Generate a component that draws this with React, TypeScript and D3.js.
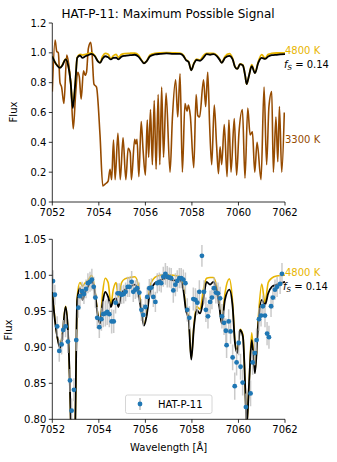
import React from "react";
import * as d3 from "d3";

// model grid shared by the 4800 K and f_S = 0.14 spectra
const modelWave = [
  7052.0, 7052.11, 7052.21, 7052.33, 7052.43, 7052.57, 7052.67, 7052.79, 7052.88, 7052.99,
  7053.07, 7053.19, 7053.3, 7053.42, 7053.53, 7053.69, 7053.83, 7053.96, 7054.05, 7054.16,
  7054.27, 7054.4, 7054.52, 7054.62, 7054.74, 7054.84, 7054.98, 7055.12, 7055.34, 7055.55,
  7055.7, 7055.84, 7055.94, 7056.05, 7056.2, 7056.41, 7056.63, 7056.91, 7057.2, 7057.49,
  7057.63, 7057.74, 7057.86, 7057.97, 7058.09, 7058.2, 7058.35, 7058.49, 7058.63, 7058.78,
  7058.92, 7059.06, 7059.18, 7059.28, 7059.42, 7059.61, 7059.75, 7059.85, 7059.95, 7060.07,
  7060.19, 7060.29, 7060.35, 7060.45, 7060.57, 7060.71, 7060.85, 7061.0, 7061.14, 7061.28,
  7061.43, 7061.64, 7062.0,
];
const hotFlux = [
  0.977, 0.94, 0.915, 0.902, 0.918, 0.957, 0.925, 0.8, 0.64, 0.8,
  0.97, 0.99, 0.985, 0.99, 0.993, 1.0, 0.98, 0.945, 0.935, 0.975,
  0.996, 0.99, 0.96, 0.98, 0.99, 0.97, 0.99, 0.995, 0.997, 0.998,
  0.985, 0.95, 0.932, 0.945, 0.985, 0.997, 1.0, 1.001, 1.0, 0.998,
  0.985, 0.955, 0.94, 0.885, 0.932, 0.957, 0.953, 0.98, 0.996, 0.997,
  0.997, 0.985, 0.96, 0.935, 0.975, 0.995, 0.962, 0.908, 0.893, 0.925,
  0.918, 0.845, 0.79, 0.845, 0.92, 0.866, 0.94, 0.988, 0.962, 0.99,
  0.996, 0.999, 1.0,
];
const mixFlux = [
  0.977, 0.938, 0.915, 0.899, 0.915, 0.956, 0.924, 0.8, 0.63, 0.8,
  0.966, 0.982, 0.966, 0.977, 0.984, 0.993, 0.977, 0.943, 0.933, 0.961,
  0.977, 0.97, 0.956, 0.966, 0.968, 0.956, 0.975, 0.98, 0.984, 0.987,
  0.975, 0.947, 0.93, 0.943, 0.977, 0.989, 0.993, 0.996, 0.993, 0.993,
  0.98, 0.952, 0.938, 0.883, 0.929, 0.952, 0.947, 0.966, 0.991, 0.987,
  0.991, 0.98, 0.956, 0.933, 0.966, 0.98, 0.956, 0.906, 0.892, 0.924,
  0.915, 0.845, 0.79, 0.845, 0.91, 0.864, 0.933, 0.966, 0.959, 0.975,
  0.984, 0.987, 0.991,
];

// 3300 K spectrum (peaks and troughs)
const coolWave = [
  7052.0, 7052.12, 7052.19, 7052.26, 7052.33, 7052.4, 7052.5, 7052.62, 7052.7, 7052.8,
  7052.9, 7053.0, 7053.09, 7053.16, 7053.24, 7053.34, 7053.41, 7053.47, 7053.55, 7053.65,
  7053.71, 7053.79, 7053.9, 7054.05, 7054.17, 7054.27, 7054.4, 7054.48, 7054.55, 7054.63,
  7054.7, 7054.82, 7054.92, 7055.04, 7055.16, 7055.26, 7055.35, 7055.4, 7055.54, 7055.59,
  7055.64, 7055.72, 7055.82, 7055.9, 7056.0, 7056.08, 7056.14, 7056.22, 7056.3, 7056.38,
  7056.46, 7056.55, 7056.62, 7056.7, 7056.78, 7056.89, 7057.06, 7057.16, 7057.3, 7057.39,
  7057.49, 7057.59, 7057.7, 7057.79, 7057.85, 7057.93, 7058.08, 7058.18, 7058.25, 7058.33,
  7058.5, 7058.59, 7058.68, 7058.76, 7058.85, 7058.96, 7059.06, 7059.14, 7059.21, 7059.28,
  7059.39, 7059.51, 7059.59, 7059.68, 7059.82, 7059.92, 7060.02, 7060.17, 7060.28, 7060.4,
  7060.5, 7060.6, 7060.7, 7060.8, 7060.97, 7061.1, 7061.21, 7061.31, 7061.43, 7061.5,
  7061.61, 7061.69, 7061.76, 7061.86, 7061.97,
];
const coolFlux = [
  0.74, 1.085, 1.01, 1.0, 0.8, 0.77, 0.66, 0.985, 0.93, 0.78,
  0.49, 0.72, 0.87, 0.84, 0.69, 0.88, 0.85, 0.87, 1.03, 1.07,
  0.99, 0.79, 0.77, 0.45, 0.107, 0.12, 0.14, 0.22, 0.15, 0.415,
  0.15, 0.46, 0.15, 0.43, 0.15, 0.36, 0.33, 0.15, 0.42, 0.39,
  0.42, 0.17, 0.54, 0.35, 0.18, 0.55, 0.3, 0.62, 0.25, 0.68,
  0.22, 0.72, 0.25, 0.77, 0.3, 0.73, 0.2, 0.56, 0.82, 0.57,
  0.86, 0.2, 0.66, 0.61, 0.65, 0.58, 0.23, 0.72, 0.58, 0.57,
  0.82, 0.64, 0.87, 0.52, 0.25, 0.65, 0.38, 0.19, 0.37, 0.25,
  0.52, 0.17, 0.55, 0.2, 0.56, 0.18, 0.46, 0.62, 0.16, 0.63,
  0.45, 0.47, 0.2, 0.4, 0.15, 0.77, 0.25, 0.64, 0.74, 0.2,
  0.57, 0.27, 0.64, 0.2, 0.6,
];

// HAT-P-11 observed points
const obsWave = [
  7052.03, 7052.11, 7052.21, 7052.3, 7052.4, 7052.47, 7052.57, 7052.67, 7052.76, 7052.83,
  7052.93, 7053.03, 7053.12, 7053.19, 7053.28, 7053.36, 7053.45, 7053.53, 7053.62, 7053.7,
  7053.78, 7053.85, 7053.93, 7054.02, 7054.11, 7054.19, 7054.28, 7054.36, 7054.45, 7054.55,
  7054.64, 7054.72, 7054.81, 7054.89, 7054.98, 7055.07, 7055.15, 7055.24, 7055.32, 7055.41,
  7055.48, 7055.57, 7055.65, 7055.74, 7055.83, 7055.91, 7056.0, 7056.08, 7056.17, 7056.26,
  7056.34, 7056.43, 7056.51, 7056.6, 7056.68, 7056.77, 7056.86, 7056.94, 7057.03, 7057.11,
  7057.2, 7057.29, 7057.37, 7057.46, 7057.54, 7057.63, 7057.72, 7057.8, 7057.89, 7058.06,
  7058.15, 7058.23, 7058.32, 7058.43, 7058.52, 7058.6, 7058.69, 7058.78, 7058.86, 7058.95,
  7059.03, 7059.12, 7059.21, 7059.29, 7059.38, 7059.46, 7059.49, 7059.58, 7059.66, 7059.75,
  7059.84, 7059.92, 7060.01, 7060.09, 7060.18, 7060.32, 7060.52, 7060.61, 7060.7, 7060.78,
  7060.88, 7060.97, 7061.05, 7061.14, 7061.23, 7061.31, 7061.4, 7061.48, 7061.57, 7061.66,
  7061.79, 7061.87,
];
const obsFlux = [
  0.992, 0.973, 0.929, 0.895, 0.904, 0.924, 0.929, 0.908, 0.854, 0.812,
  0.841, 0.91, 0.955, 0.971, 0.978, 0.974, 0.981, 0.989, 0.991, 0.994,
  0.984, 0.969, 0.941, 0.928, 0.939, 0.946, 0.947, 0.949, 0.946, 0.936,
  0.936, 0.962, 0.975, 0.975, 0.973, 0.974, 0.977, 0.984, 0.984, 0.991,
  0.977, 0.98, 0.982, 0.976, 0.952, 0.945, 0.956, 0.97, 0.982, 0.983,
  0.97, 0.963, 0.989, 0.991, 0.989, 0.998, 1.002, 0.998, 0.997, 0.996,
  0.979, 0.987, 0.992, 0.996, 0.996, 0.994, 0.989, 0.952, 0.941, 0.967,
  0.966, 0.962, 0.977, 1.027, 0.977, 0.952, 0.943, 0.963, 0.969, 0.982,
  0.976, 0.975, 0.968, 0.943, 0.934, 0.923, 0.903, 0.936, 0.922, 0.886,
  0.846, 0.879, 0.906, 0.873, 0.851, 0.817, 0.836, 0.879, 0.892, 0.91,
  0.939, 0.944, 0.957, 0.944, 0.919, 0.914, 0.957, 0.969, 0.98, 0.984,
  0.988, 1.002,
];
const obsErr = [
  0.015, 0.014, 0.014, 0.015, 0.014, 0.014, 0.015, 0.016, 0.016, 0.017,
  0.016, 0.015, 0.014, 0.014, 0.013, 0.014, 0.013, 0.014, 0.014, 0.015,
  0.014, 0.014, 0.015, 0.015, 0.016, 0.018, 0.018, 0.018, 0.018, 0.017,
  0.016, 0.015, 0.014, 0.014, 0.013, 0.013, 0.013, 0.014, 0.014, 0.015,
  0.014, 0.013, 0.013, 0.014, 0.015, 0.015, 0.014, 0.014, 0.013, 0.013,
  0.014, 0.014, 0.014, 0.013, 0.013, 0.014, 0.015, 0.015, 0.014, 0.014,
  0.017, 0.016, 0.015, 0.014, 0.014, 0.014, 0.015, 0.016, 0.016, 0.016,
  0.016, 0.017, 0.016, 0.015, 0.016, 0.017, 0.017, 0.016, 0.016, 0.015,
  0.015, 0.015, 0.016, 0.017, 0.017, 0.017, 0.018, 0.017, 0.017, 0.018,
  0.019, 0.018, 0.017, 0.018, 0.018, 0.019, 0.018, 0.017, 0.017, 0.016,
  0.016, 0.015, 0.015, 0.016, 0.016, 0.016, 0.015, 0.015, 0.014, 0.014,
  0.014, 0.015,
];

const topTicks = [0, 0.2, 0.4, 0.6, 0.8, 1.0, 1.2];
const bottomTicks = [0.8, 0.85, 0.9, 0.95, 1.0, 1.05];
const waveTicks = [7052, 7054, 7056, 7058, 7060, 7062];

const HOT = "#e8b500";
const COOL = "#964b00";
const BLUE = "#1f77b4";
const FONT = "DejaVu Sans";

const W = 337;
const H = 462;
const left = 52.3;
const right = 285;

type Pt = [number, number];
const zip = (xs: number[], ys: number[]): Pt[] => xs.map((x, i) => [x, ys[i]]);

function FS({ x, y }: { x: number; y: number }) {
  return (
    <text x={x} y={y} fontSize={10} fontFamily={FONT} fill="#000">
      <tspan fontStyle="italic">f</tspan>
      <tspan fontStyle="italic" fontSize={7} dy={2}>S</tspan>
      <tspan dy={-2}> = 0.14</tspan>
    </text>
  );
}

function Axes({ y, ticks, fmt, top, bottom }: any) {
  const x = d3.scaleLinear().domain([7052, 7062]).range([left, right]);
  return (
    <g fontFamily={FONT} fontSize={10}>
      <line x1={left} x2={left} y1={top} y2={bottom} stroke="#000" strokeWidth={0.8} />
      <line x1={left} x2={right} y1={bottom} y2={bottom} stroke="#000" strokeWidth={0.8} />
      {ticks.map((t: number) => (
        <g key={t}>
          <line x1={left - 3.5} x2={left} y1={y(t)} y2={y(t)} stroke="#000" strokeWidth={0.8} />
          <text x={left - 6} y={y(t)} dy="0.35em" textAnchor="end">{fmt(t)}</text>
        </g>
      ))}
      {waveTicks.map((t) => (
        <g key={t}>
          <line x1={x(t)} x2={x(t)} y1={bottom} y2={bottom + 3.5} stroke="#000" strokeWidth={0.8} />
          <text x={x(t)} y={bottom + 14} textAnchor="middle">{t}</text>
        </g>
      ))}
    </g>
  );
}

export default function App() {
  const x = d3.scaleLinear().domain([7052, 7062]).range([left, right]);
  const yTop = d3.scaleLinear().domain([0, 1.2]).range([202, 23]);
  const yBot = d3.scaleLinear().domain([0.8, 1.05]).range([419.3, 239.3]);

  const lineTop = d3.line<Pt>().x((d) => x(d[0])).y((d) => yTop(d[1])).curve(d3.curveMonotoneX);
  const lineBot = d3.line<Pt>().x((d) => x(d[0])).y((d) => yBot(d[1])).curve(d3.curveMonotoneX);

  const hot = zip(modelWave, hotFlux);
  const mix = zip(modelWave, mixFlux);
  const cool = zip(coolWave, coolFlux);

  return (
    <svg width={W} height={H} style={{ position: "absolute", left: 0, top: 0, background: "#fff" }}>
      <defs>
        <clipPath id="clipTop">
          <rect x={left} y={23} width={right - left} height={202 - 23} />
        </clipPath>
        <clipPath id="clipBot">
          <rect x={left} y={239.3} width={right - left} height={419.3 - 239.3} />
        </clipPath>
      </defs>
      <text x={168} y={17.5} textAnchor="middle" fontFamily={FONT} fontSize={12}>
        HAT-P-11: Maximum Possible Signal
      </text>

      {/* top panel */}
      <g clipPath="url(#clipTop)" fill="none" strokeLinejoin="round">
        <path d={lineTop(cool) || ""} stroke={COOL} strokeWidth={1.6} />
        <path d={lineTop(hot) || ""} stroke={HOT} strokeWidth={1.8} />
        <path d={lineTop(mix) || ""} stroke="#000" strokeWidth={1.8} />
      </g>
      <Axes y={yTop} ticks={topTicks} fmt={(t: number) => t.toFixed(1)} top={23} bottom={202} />
      <text transform="translate(17,112) rotate(-90)" textAnchor="middle" fontFamily={FONT} fontSize={10}>Flux</text>
      <text x={285} y={53.5} fontFamily={FONT} fontSize={10} fill={HOT}>4800 K</text>
      <FS x={284} y={68} />
      <text x={285} y={143} fontFamily={FONT} fontSize={10} fill={COOL}>3300 K</text>

      {/* bottom panel */}
      <g clipPath="url(#clipBot)">
        <g fill="none" strokeLinejoin="round">
          <path d={lineBot(hot) || ""} stroke={HOT} strokeWidth={1.6} />
          <path d={lineBot(mix) || ""} stroke="#000" strokeWidth={1.8} />
        </g>
        {obsWave.map((w, i) => (
          <line key={"e" + i} x1={x(w)} x2={x(w)}
            y1={yBot(obsFlux[i] - obsErr[i])} y2={yBot(obsFlux[i] + obsErr[i])}
            stroke="#bdbdbd" strokeOpacity={0.8} strokeWidth={1.5} />
        ))}
        {obsWave.map((w, i) => (
          <circle key={"p" + i} cx={x(w)} cy={yBot(obsFlux[i])} r={2.4} fill={BLUE} />
        ))}
      </g>
      <Axes y={yBot} ticks={bottomTicks} fmt={(t: number) => t.toFixed(2)} top={239.3} bottom={419.3} />
      <text transform="translate(12,330) rotate(-90)" textAnchor="middle" fontFamily={FONT} fontSize={10}>Flux</text>
      <text x={168.6} y={451} textAnchor="middle" fontFamily={FONT} fontSize={10}>Wavelength [Å]</text>
      <text x={285} y={275.5} fontFamily={FONT} fontSize={10} fill={HOT}>4800 K</text>
      <FS x={283} y={290} />

      {/* legend */}
      <rect x={125.5} y={395} width={86.5} height={18.5} rx={2} fill="#fff" fillOpacity={0.8} stroke="#cccccc" strokeWidth={0.8} />
      <line x1={140} x2={140} y1={398} y2={410} stroke="#bdbdbd" strokeWidth={1.5} />
      <circle cx={140} cy={404} r={2.4} fill={BLUE} />
      <text x={158} y={407.5} fontFamily={FONT} fontSize={10}>HAT-P-11</text>
    </svg>
  );
}
